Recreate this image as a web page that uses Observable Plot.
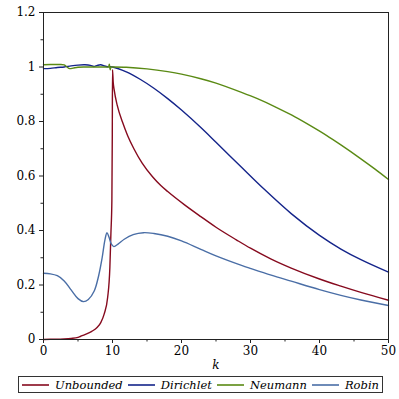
<!DOCTYPE html>
<html>
<head>
<meta charset="utf-8">
<script src="https://cdn.jsdelivr.net/npm/d3@7"></script>
<script src="https://cdn.jsdelivr.net/npm/@observablehq/plot@0.6"></script>
<style>
  html, body { margin: 0; padding: 0; background: #fff; }
  #wrap { position: relative; width: 399px; height: 399px; }
  #legend {
    position: absolute; left: 18px; top: 376px; width: 357px; height: 15px;
    border: 1px solid #333; padding: 0 3px;
    display: flex; align-items: center; justify-content: space-between;
    font-family: "DejaVu Serif", serif; font-style: italic; font-size: 11.5px; color: #000;
  }
  .item { display: flex; align-items: center; white-space: nowrap; }
  .item svg { margin-right: 6px; }
</style>
</head>
<body>
<div id="wrap"><div id="chart"></div><div id="legend"></div></div>
<script>
// Series names and colors
const seriesNames = ["Unbounded", "Dirichlet", "Neumann", "Robin"];
const seriesColors = ["#860A1E", "#14248A", "#5A8A14", "#4A6EA6"];

// Unbounded
const unbK = [0,1,2,3,4,5,5.4,6,7,7.8,8.3,8.8,9.3,9.62,9.77,9.91,9.97,10.0,10.1,10.25,10.7,11.46,12.2,13.1,14.3,15.8,17,18,20.4,22.8,25,28,30,33,35.9,40,43.1,46,50];
const unbV = [0,0.001,0.001,0.002,0.004,0.008,0.012,0.018,0.03,0.045,0.062,0.094,0.155,0.265,0.39,0.51,0.75,0.99,0.945,0.915,0.858,0.797,0.748,0.7,0.647,0.597,0.565,0.543,0.495,0.451,0.412,0.365,0.335,0.295,0.262,0.222,0.196,0.173,0.144];

// Dirichlet
const dirK = [0,1,2,3,4,5,6,6.8,7.3,7.8,8.3,8.8,9.3,10,12,14,16,18,20,22.8,25,28.7,32,35.9,40,43.1,46,50];
const dirV = [0.994,0.995,0.998,1.0,1.004,1.007,1.008,1.006,1.002,1.006,1.008,1.004,1.001,1.0,0.982,0.955,0.922,0.884,0.842,0.778,0.724,0.632,0.551,0.462,0.382,0.332,0.293,0.247];

// Neumann
const neuK = [0,1,2,3,3.4,3.8,4.3,5,6,7,8,9,9.4,9.55,9.65,9.8,10,12,15,18,20,22.8,25,28.7,31,33.5,36,38.3,41,43.1,46,48,50];
const neuV = [1.008,1.009,1.009,1.008,1.0,0.994,0.996,0.999,1.0,1.0,1.0,1.0,1.0,1.01,0.99,1.0,1.0,0.999,0.993,0.983,0.974,0.957,0.941,0.907,0.884,0.855,0.823,0.79,0.749,0.714,0.663,0.626,0.587];

// Robin
const robK = [0,1,2,3,4,5,5.8,6.5,7.35,8,8.5,8.9,9.2,9.5,9.8,10.2,10.8,11.7,13,14.5,16,18,20,22.8,25,28.7,30.1,33,35.9,40,43.1,46,50];
const robV = [0.243,0.241,0.234,0.215,0.182,0.15,0.139,0.147,0.178,0.235,0.3,0.365,0.392,0.375,0.352,0.341,0.35,0.368,0.385,0.392,0.389,0.379,0.362,0.331,0.307,0.272,0.26,0.236,0.214,0.183,0.162,0.145,0.125];

// Axis ticks
const xMajor = [0,10,20,30,40,50];
const xMinor = [5,15,25,35,45];
const yMajor = [0,0.2,0.4,0.6,0.8,1,1.2];
const yMinor = [0.1,0.3,0.5,0.7,0.9,1.1];
const xLabel = "k";

const seriesK = [unbK, dirK, neuK, robK];
const seriesV = [unbV, dirV, neuV, robV];
const rowsFor = (i) => seriesK[i].map((k, j) => ({series: seriesNames[i], k, v: seriesV[i][j]}));

const fmt = d3.format("~g");
const lineMarks = seriesNames.map((name, i) =>
  Plot.line(rowsFor(i), {x: "k", y: "v", stroke: "series", strokeWidth: 1.4,
    curve: i === 0 ? "monotone-x" : "catmull-rom"})
);

const chart = Plot.plot({
  width: 399,
  height: 374,
  marginLeft: 43,
  marginRight: 11,
  marginTop: 12,
  marginBottom: 35,
  style: {fontFamily: "DejaVu Serif", fontSize: "12px", color: "#000", background: "#fff"},
  x: {domain: [0, 50]},
  y: {domain: [0, 1.2]},
  color: {domain: seriesNames, range: seriesColors},
  marks: [
    Plot.axisX({ticks: xMajor, tickSize: 4, tickPadding: 3, tickFormat: fmt, label: null, stroke: "#222"}),
    Plot.axisX({ticks: xMinor, tickSize: 2.5, tickFormat: () => "", label: null, stroke: "#222"}),
    Plot.axisY({ticks: yMajor, tickSize: 4, tickPadding: 4, tickFormat: fmt, label: null, stroke: "#222"}),
    Plot.axisY({ticks: yMinor, tickSize: 2.5, tickFormat: () => "", label: null, stroke: "#222"}),
    ...lineMarks,
    Plot.frame({stroke: "#222"}),
    Plot.text([xLabel], {text: d => d, frameAnchor: "bottom", dy: 29, fontStyle: "italic", fontSize: 12})
  ]
});
document.getElementById("chart").appendChild(chart);

const legend = document.getElementById("legend");
seriesNames.forEach((name, i) => {
  const item = document.createElement("div");
  item.className = "item";
  item.innerHTML = `<svg width="27" height="4"><line x1="0" x2="27" y1="2" y2="2" stroke="${seriesColors[i]}" stroke-width="1.6"/></svg><span>${name}</span>`;
  legend.appendChild(item);
});
</script>
</body>
</html>
